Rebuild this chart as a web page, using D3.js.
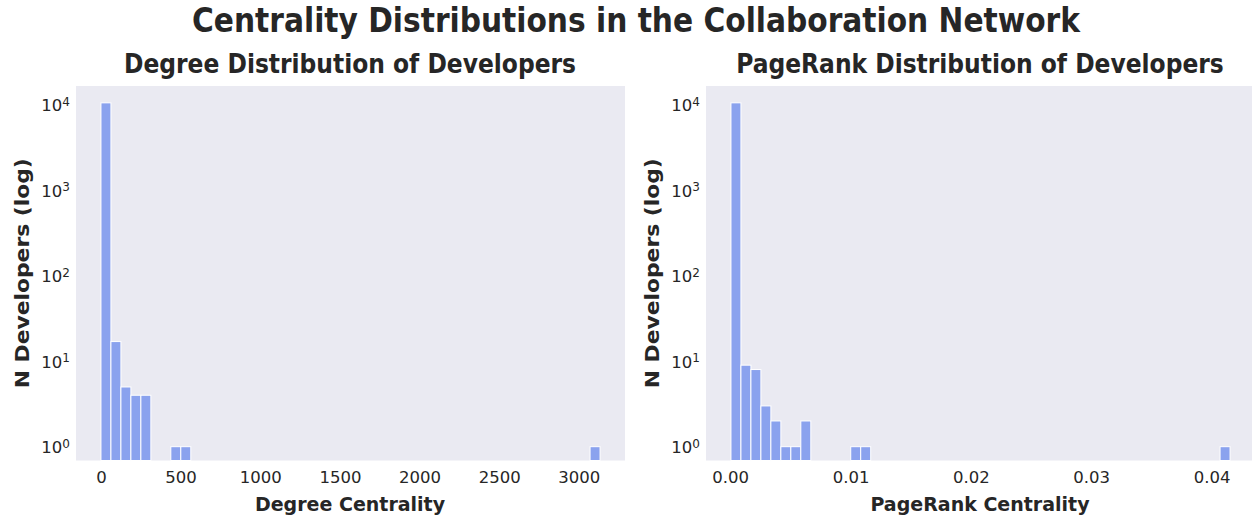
<!DOCTYPE html>
<html>
<head>
<meta charset="utf-8">
<script src="https://cdn.jsdelivr.net/npm/d3@7"></script>
<style>
  body { margin: 0; background: #fff; }
  svg text { fill: #262626; font-family: "DejaVu Sans", sans-serif; }
  .cond { font-family: "DejaVu Sans Condensed", "DejaVu Sans", sans-serif; font-stretch: condensed; font-weight: bold; }
</style>
</head>
<body>
<script>
// histogram counts, 50 bins each
var degreeCounts = [10600, 17, 5, 4, 4, 0, 0, 1, 1, 0,
                    0, 0, 0, 0, 0, 0, 0, 0, 0, 0,
                    0, 0, 0, 0, 0, 0, 0, 0, 0, 0,
                    0, 0, 0, 0, 0, 0, 0, 0, 0, 0,
                    0, 0, 0, 0, 0, 0, 0, 0, 0, 1];
var degreeRange = [0, 3133];
var degreeTicks = [0, 500, 1000, 1500, 2000, 2500, 3000];

var pagerankCounts = [10604, 9, 8, 3, 2, 1, 1, 2, 0, 0,
                      0, 0, 1, 1, 0, 0, 0, 0, 0, 0,
                      0, 0, 0, 0, 0, 0, 0, 0, 0, 0,
                      0, 0, 0, 0, 0, 0, 0, 0, 0, 0,
                      0, 0, 0, 0, 0, 0, 0, 0, 0, 1];
var pagerankRange = [0.00006, 0.04154];
var pagerankTicks = [0, 0.01, 0.02, 0.03, 0.04];

var yTicks = [1, 10, 100, 1000, 10000];

var W = 1252, H = 520;
var svg = d3.select('body').append('svg').attr('width', W).attr('height', H);

svg.append('text').attr('class', 'cond')
  .attr('x', 636).attr('y', 32).attr('text-anchor', 'middle')
  .style('font-size', '33px')
  .text('Centrality Distributions in the Collaboration Network');

var plotTop = 86, plotBottom = 460.5;
var y = d3.scaleLog().domain([0.689, 16690]).range([plotBottom, plotTop]);

function drawPanel(opt) {
  var g = svg.append('g');
  var lo = opt.range[0], hi = opt.range[1], pad = (hi - lo) * 0.05;
  var x = d3.scaleLinear().domain([lo - pad, hi + pad]).range([opt.x0, opt.x1]);

  g.append('rect').attr('x', opt.x0).attr('y', plotTop)
    .attr('width', opt.x1 - opt.x0).attr('height', plotBottom - plotTop)
    .attr('fill', '#eaeaf2');

  var n = opt.counts.length, w = (hi - lo) / n;
  var bins = opt.counts.map(function (c, i) { return { x0: lo + i * w, x1: lo + (i + 1) * w, c: c }; })
    .filter(function (d) { return d.c > 0; });

  g.selectAll('rect.bar').data(bins).enter().append('rect')
    .attr('class', 'bar')
    .attr('x', function (d) { return x(d.x0); })
    .attr('width', function (d) { return x(d.x1) - x(d.x0); })
    .attr('y', function (d) { return y(d.c); })
    .attr('height', function (d) { return plotBottom - y(d.c); })
    .attr('fill', '#8aa2ee')
    .attr('stroke', '#fff').attr('stroke-width', 1);

  // x axis
  var xa = g.append('g').attr('transform', 'translate(0,' + plotBottom + ')')
    .call(d3.axisBottom(x).tickValues(opt.ticks).tickFormat(opt.fmt).tickSize(0).tickPadding(11));
  xa.select('.domain').remove();
  xa.selectAll('text').style('font-size', '16.5px').attr('fill', '#262626');

  // y axis with superscript labels
  var ya = g.append('g').attr('transform', 'translate(' + opt.x0 + ',0)')
    .call(d3.axisLeft(y).tickValues(yTicks).tickFormat('').tickSize(0));
  ya.select('.domain').remove();
  ya.selectAll('.tick').append('text')
    .attr('x', -6).attr('dy', '0.35em').attr('text-anchor', 'end')
    .attr('fill', '#262626').style('font-size', '16.5px')
    .each(function (d) {
      var t = d3.select(this);
      t.append('tspan').text('10');
      t.append('tspan').attr('dy', '-0.45em').style('font-size', '12px').text(Math.round(Math.log10(d)));
    });

  g.append('text').attr('class', 'cond')
    .attr('x', opt.titleX).attr('y', 73)
    .attr('text-anchor', 'middle').style('font-size', '26px')
    .text(opt.title);

  g.append('text')
    .attr('x', opt.titleX).attr('y', 511)
    .attr('text-anchor', 'middle').style('font-size', '19px').style('font-weight', 'bold')
    .text(opt.xlabel);

  g.append('text')
    .attr('transform', 'translate(' + (opt.x0 - 47) + ',' + ((plotTop + plotBottom) / 2) + ') rotate(-90)')
    .attr('x', -115)
    .attr('textLength', 230).attr('lengthAdjust', 'spacingAndGlyphs')
    .style('font-size', '20px').style('font-weight', 'bold')
    .text('N Developers (log)');
}

drawPanel({
  counts: degreeCounts, range: degreeRange, ticks: degreeTicks, fmt: d3.format('d'),
  x0: 76, x1: 625, titleX: 350, title: 'Degree Distribution of Developers', xlabel: 'Degree Centrality'
});
drawPanel({
  counts: pagerankCounts, range: pagerankRange, ticks: pagerankTicks, fmt: d3.format('.2f'),
  x0: 706, x1: 1255, titleX: 980, title: 'PageRank Distribution of Developers', xlabel: 'PageRank Centrality'
});
</script>
</body>
</html>
